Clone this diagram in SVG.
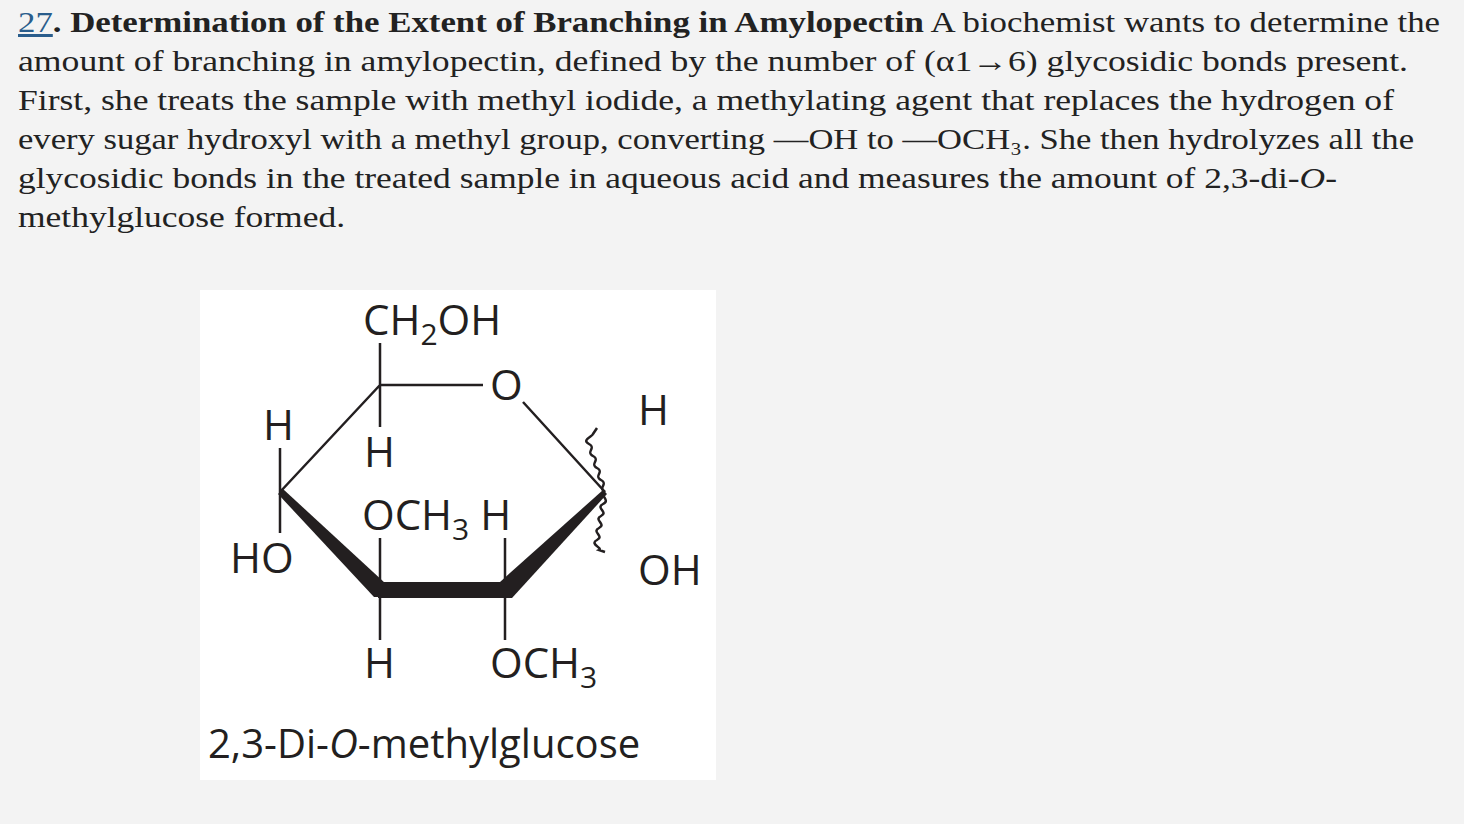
<svg xmlns="http://www.w3.org/2000/svg" width="1464" height="824" viewBox="0 0 1464 824">
<style>
.t{font-family:"Liberation Serif",serif;font-size:30px;fill:#222}
.c{font-family:"Open Sans","Liberation Sans",sans-serif;font-size:42px;fill:#231f20}
.s{font-size:30px}
.b{stroke:#231f20;stroke-width:2.5;fill:none}
</style>
<rect width="1464" height="824" fill="#f3f3f3"/>
<g id="question">
<text class="t" x="18" y="32" textLength="1422" lengthAdjust="spacingAndGlyphs"><tspan fill="#2a5d8c" text-decoration="underline">27</tspan><tspan font-weight="bold">. Determination of the Extent of Branching in Amylopectin</tspan> A biochemist wants to determine the</text>
<text class="t" x="18" y="71" textLength="1390" lengthAdjust="spacingAndGlyphs">amount of branching in amylopectin, defined by the number of (α1→6) glycosidic bonds present.</text>
<text class="t" x="18" y="110" textLength="1376" lengthAdjust="spacingAndGlyphs">First, she treats the sample with methyl iodide, a methylating agent that replaces the hydrogen of</text>
<text class="t" x="18" y="149" textLength="1396" lengthAdjust="spacingAndGlyphs">every sugar hydroxyl with a methyl group, converting —OH to —OCH₃. She then hydrolyzes all the</text>
<text class="t" x="18" y="188" textLength="1319" lengthAdjust="spacingAndGlyphs">glycosidic bonds in the treated sample in aqueous acid and measures the amount of 2,3-di-<tspan font-style="italic">O</tspan>-</text>
<text class="t" x="18" y="227" textLength="327" lengthAdjust="spacingAndGlyphs">methylglucose formed.</text>
</g>
<rect x="200" y="290" width="516" height="490" fill="#fff"/>
<g id="bonds">
<path class="b" d="M380 343V427M380 385H483M523 402L605 492M280 448V533M280 492L380 385M380 538V640M505 538V640"/>
<path d="M278 494L283 489L385 583L385 597L374 597Z" fill="#231f20"/>
<rect x="378" y="582" width="130" height="16" fill="#231f20"/>
<path d="M500 582L603 490L607 494L512 598L500 598Z" fill="#231f20"/>
<path class="b" d="M605 492c-8-4 4-8-4-12s4-8-4-12 4-8-4-12 4-8-4-12 4-8 4-10l4-6M605 492c-6 4 6 8-2 12s6 8-2 12 6 8-2 12 6 8-2 12 6 8 2 10l6 2" stroke-width="2"/>
</g>
<g id="labels" class="c">
<text x="363" y="335">CH<tspan class="s" dy="10">2</tspan><tspan dy="-10">OH</tspan></text>
<text x="490" y="400">O</text>
<text x="263" y="440">H</text>
<text x="364" y="467">H</text>
<text x="638" y="425">H</text>
<text x="362" y="530">OCH<tspan class="s" dy="10">3</tspan><tspan dy="-10"> H</tspan></text>
<text x="230" y="573">HO</text>
<text x="638" y="585">OH</text>
<text x="364" y="678">H</text>
<text x="490" y="678">OCH<tspan class="s" dy="10">3</tspan></text>
<text x="208" y="758" font-size="40">2,3-Di-<tspan font-style="italic">O</tspan>-methylglucose</text>
</g>
</svg>
